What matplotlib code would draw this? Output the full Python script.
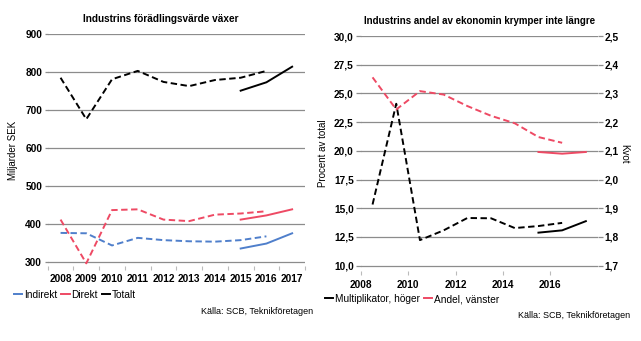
import numpy as np
import matplotlib
matplotlib.use('Agg')
import matplotlib.pyplot as plt
from matplotlib.lines import Line2D
from matplotlib.ticker import FixedLocator, FuncFormatter

plt.rcParams['font.family'] = ['Liberation Sans', 'DejaVu Sans']

# left panel: value added, billion SEK (old series to 2016, new series 2015-2017)
years = ['2008', '2009', '2010', '2011', '2012', '2013', '2014', '2015', '2016', '2017']
indirekt_old = [377, 376, 344, 364, 358, 355, 354, 358, 368]
direkt_old = [412, 297, 437, 439, 412, 408, 425, 428, 434]
totalt_old = [785, 676, 781, 803, 774, 763, 779, 785, 803]
indirekt_new = [336, 349, 376]
direkt_new = [412, 423, 439]
totalt_new = [751, 773, 814]

# right panel: share of economy (percent, left axis) and multiplier (ratio, right axis)
yr_old = [2008, 2009, 2010, 2011, 2012, 2013, 2014, 2015, 2016]
yr_new = [2015, 2016, 2017]
andel_old = [26.4, 23.6, 25.2, 24.9, 23.9, 23.05, 22.4, 21.2, 20.7]
andel_new = [19.9, 19.75, 19.9]
multi_old = [1.913, 2.264, 1.789, 1.823, 1.866, 1.865, 1.831, 1.838, 1.849]
multi_new = [1.815, 1.823, 1.855]

blue = '#4F7FCB'
red = '#EE4A64'
grid = '#8C8C8C'
dash = (0, (3.3, 1.8))
lw = 1.4

fig = plt.figure(figsize=(6.41, 3.41), dpi=100)

# ---- left chart
ax = fig.add_axes([47.7 / 641, 75 / 341, 257.3 / 641, 232 / 341])
x_old = np.arange(9)
x_new = np.arange(7, 10)
ax.plot(x_old, indirekt_old, color=blue, lw=lw, ls=dash)
ax.plot(x_old, direkt_old, color=red, lw=lw, ls=dash)
ax.plot(x_old, totalt_old, color='black', lw=lw, ls=dash)
ax.plot(x_new, indirekt_new, color=blue, lw=lw)
ax.plot(x_new, direkt_new, color=red, lw=lw)
ax.plot(x_new, totalt_new, color='black', lw=lw)

ax.set_xlim(-0.5, 9.5)
ax.set_ylim(290, 900)
ax.set_yticks([300, 400, 500, 600, 700, 800, 900])
ax.yaxis.grid(True, color=grid, lw=0.9)
ax.set_axisbelow(True)
ax.set_xticks(np.arange(10))
ax.set_xticklabels(years)
ax.xaxis.set_minor_locator(FixedLocator(np.arange(-0.5, 10, 1)))
ax.tick_params(axis='x', which='major', length=0, pad=6)
ax.tick_params(axis='x', which='minor', length=3, color='#BBBBBB', width=0.8)
ax.tick_params(axis='y', length=2.5, color=grid, width=0.9, pad=1.5)
for lab in ax.get_xticklabels() + ax.get_yticklabels():
    lab.set_fontweight('bold')
    lab.set_fontsize(7.3)
for s in ax.spines.values():
    s.set_visible(False)
ax.set_ylabel('Miljarder SEK', fontsize=7)
ax.yaxis.set_label_coords(-0.115, 0.5)
ax.set_title('Industrins förädlingsvärde växer', fontsize=7.2, fontweight='bold',
             x=0.44, pad=9)

handles = [Line2D([], [], color=c, lw=lw) for c in (blue, red, 'black')]
fig.legend(handles, ['Indirekt', 'Direkt', 'Totalt'], loc='center left',
           bbox_to_anchor=(14 / 641, 1 - 295 / 341), ncol=3, frameon=False,
           fontsize=7.3, handlelength=0.8, handletextpad=0.15, columnspacing=0.45,
           borderaxespad=0, borderpad=0)
fig.text(313 / 641, 1 - 311 / 341, 'Källa: SCB, Teknikföretagen', fontsize=6.5,
         ha='right', va='center')

# ---- right chart
ax2 = fig.add_axes([360.7 / 641, 69.6 / 341, 237 / 641, 235.4 / 341])
ax3 = ax2.twinx()
xo = np.array(yr_old) + 0.5
xn = np.array(yr_new) + 0.5
ax3.plot(xo, multi_old, color='black', lw=lw, ls=dash)
ax3.plot(xn, multi_new, color='black', lw=lw)
ax2.plot(xo, andel_old, color=red, lw=lw, ls=dash)
ax2.plot(xn, andel_new, color=red, lw=lw)
ax2.set_zorder(3)
ax2.patch.set_visible(False)

ax2.set_xlim(2008, 2018)
ax2.set_ylim(9.5, 30)
ax3.set_ylim(9.5 / 25 + 1.3, 2.5)
left_ticks = [10.0, 12.5, 15.0, 17.5, 20.0, 22.5, 25.0, 27.5, 30.0]
right_ticks = [1.7, 1.8, 1.9, 2.0, 2.1, 2.2, 2.3, 2.4, 2.5]
ax2.set_yticks(left_ticks)
ax3.set_yticks(right_ticks)
ax2.yaxis.set_major_formatter(FuncFormatter(lambda v, p: f'{v:.1f}'.replace('.', ',')))
ax3.yaxis.set_major_formatter(FuncFormatter(lambda v, p: f'{v:.1f}'.replace('.', ',')))
ax2.set_xticks([2008, 2010, 2012, 2014, 2016])
ax3.yaxis.grid(True, color=grid, lw=0.9)
ax3.set_axisbelow(True)
ax2.tick_params(axis='x', length=3, color='#BBBBBB', width=0.8, pad=3)
ax2.tick_params(axis='y', length=3.5, color=grid, width=0.9, pad=1.5)
ax3.tick_params(axis='y', length=3.5, color=grid, width=0.9, pad=1.5)
for a in (ax2, ax3):
    for s in a.spines.values():
        s.set_visible(False)
for lab in ax2.get_xticklabels() + ax2.get_yticklabels() + ax3.get_yticklabels():
    lab.set_fontweight('bold')
    lab.set_fontsize(7.3)
ax2.set_ylabel('Procent av total', fontsize=7)
ax2.yaxis.set_label_coords(-0.14, 0.5)
ax3.set_ylabel('Kvot', fontsize=7, rotation=270, va='center')
ax3.yaxis.set_label_coords(1.11, 0.5)
ax2.set_title('Industrins andel av ekonomin krymper inte längre', fontsize=7.0,
              fontweight='bold', pad=9)

handles2 = [Line2D([], [], color=c, lw=lw) for c in ('black', red)]
fig.legend(handles2, ['Multiplikator, höger', 'Andel, vänster'], loc='center left',
           bbox_to_anchor=(325 / 641, 1 - 299 / 341), ncol=2, frameon=False,
           fontsize=7.3, handlelength=0.8, handletextpad=0.15, columnspacing=0.45,
           borderaxespad=0, borderpad=0)
fig.text(630 / 641, 1 - 316 / 341, 'Källa: SCB, Teknikföretagen', fontsize=6.5,
         ha='right', va='center')

fig.savefig('out.png', dpi=100)
